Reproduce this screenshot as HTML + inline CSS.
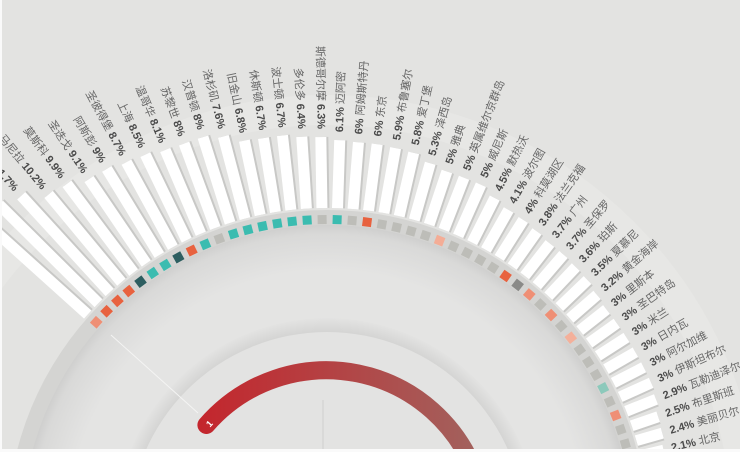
<!DOCTYPE html>
<html><head><meta charset="utf-8"><style>
html,body{margin:0;padding:0;background:#fff;width:740px;height:452px;overflow:hidden}
svg{display:block}
text{font-family:"Liberation Sans","Noto Sans CJK SC",sans-serif;font-size:11px;fill:#666}
.p{font-weight:bold;fill:#4a4a4a}
.bar{fill:#fff}
.sh{fill:#c8c8c6}
</style></head><body>
<svg width="740" height="452" viewBox="0 0 740 452" xmlns="http://www.w3.org/2000/svg" style="overflow:hidden">
<defs>
<radialGradient id="disc" cx="0" cy="0" r="305" gradientUnits="userSpaceOnUse">
<stop offset="0.85" stop-color="#e4e4e3"/><stop offset="0.97" stop-color="#d9d9d8"/><stop offset="1" stop-color="#cfcfce"/></radialGradient>
<radialGradient id="inner" cx="0" cy="0" r="212" gradientUnits="userSpaceOnUse">
<stop offset="0.9" stop-color="#cdcdcc"/><stop offset="1" stop-color="#e3e3e2"/></radialGradient>
<linearGradient id="red" x1="195" y1="0" x2="470" y2="0" gradientUnits="userSpaceOnUse">
<stop offset="0" stop-color="#c4252c"/><stop offset="1" stop-color="#a3605c"/></linearGradient>
<clipPath id="cp"><rect width="740" height="452"/></clipPath>
</defs>
<g clip-path="url(#cp)">
<rect width="740" height="452" fill="#e3e3e1"/>
<g transform="translate(327,530)">
<circle r="420" fill="none" stroke="#e7e7e5" stroke-width="30"/>
<circle r="320" fill="#d4d4d2"/>
<circle r="305" fill="url(#disc)"/>
<circle r="212" fill="url(#inner)"/>
<circle r="198" fill="#e3e3e2"/>
</g>
<line x1="111" y1="335" x2="198" y2="413" stroke="#f4f4f3" stroke-width="1"/>
<line x1="323" y1="400" x2="323" y2="452" stroke="#cfcfcd" stroke-width="1"/>
<path d="M206.4,425.0 A159,159 0 0 1 477.6,480.0" fill="none" stroke="url(#red)" stroke-width="18" stroke-linecap="round"/>
<text x="207" y="429" transform="rotate(-48 207 425)" style="fill:#fff;font-size:9px;font-weight:bold">1</text>

<g transform="translate(327,530)">
<g transform="rotate(-138)"><rect class="sh" x="322" y="-3.5" width="146" height="11"/><rect class="bar" x="322" y="-5.5" width="146" height="11"/><rect x="306" y="-4.5" width="9" height="9" fill="#ef8f75"/><g transform="rotate(180)"><text x="-476" text-anchor="end" dominant-baseline="central">罗马 <tspan class="p">13%</tspan></text></g></g>
<g transform="rotate(-135.22)"><rect class="sh" x="322" y="-3.5" width="140" height="11"/><rect class="bar" x="322" y="-5.5" width="140" height="11"/><rect x="306" y="-4.5" width="9" height="9" fill="#e8623f"/><g transform="rotate(180)"><text x="-470" text-anchor="end" dominant-baseline="central">巴黎 <tspan class="p">12.5%</tspan></text></g></g>
<g transform="rotate(-132.45)"><rect class="sh" x="322" y="-3.5" width="131" height="11"/><rect class="bar" x="322" y="-5.5" width="131" height="11"/><rect x="306" y="-4.5" width="9" height="9" fill="#e8623f"/><g transform="rotate(180)"><text x="-461" text-anchor="end" dominant-baseline="central">伦敦 <tspan class="p">11.7%</tspan></text></g></g>
<g transform="rotate(-129.68)"><rect class="sh" x="322" y="-3.5" width="114" height="11"/><rect class="bar" x="322" y="-5.5" width="114" height="11"/><rect x="306" y="-4.5" width="9" height="9" fill="#e8623f"/><g transform="rotate(180)"><text x="-444" text-anchor="end" dominant-baseline="central">马尼拉 <tspan class="p">10.2%</tspan></text></g></g>
<g transform="rotate(-126.91)"><rect class="sh" x="322" y="-3.5" width="111" height="11"/><rect class="bar" x="322" y="-5.5" width="111" height="11"/><rect x="306" y="-4.5" width="9" height="9" fill="#2d5e60"/><g transform="rotate(180)"><text x="-441" text-anchor="end" dominant-baseline="central">莫斯科 <tspan class="p">9.9%</tspan></text></g></g>
<g transform="rotate(-124.14)"><rect class="sh" x="322" y="-3.5" width="102" height="11"/><rect class="bar" x="322" y="-5.5" width="102" height="11"/><rect x="306" y="-4.5" width="9" height="9" fill="#3bbcb0"/><g transform="rotate(180)"><text x="-432" text-anchor="end" dominant-baseline="central">圣迭戈 <tspan class="p">9.1%</tspan></text></g></g>
<g transform="rotate(-121.37)"><rect class="sh" x="322" y="-3.5" width="101" height="11"/><rect class="bar" x="322" y="-5.5" width="101" height="11"/><rect x="306" y="-4.5" width="9" height="9" fill="#3bbcb0"/><g transform="rotate(180)"><text x="-431" text-anchor="end" dominant-baseline="central">阿斯彭 <tspan class="p">9%</tspan></text></g></g>
<g transform="rotate(-118.6)"><rect class="sh" x="322" y="-3.5" width="97" height="11"/><rect class="bar" x="322" y="-5.5" width="97" height="11"/><rect x="306" y="-4.5" width="9" height="9" fill="#2d5e60"/><g transform="rotate(180)"><text x="-427" text-anchor="end" dominant-baseline="central">圣彼得堡 <tspan class="p">8.7%</tspan></text></g></g>
<g transform="rotate(-115.83)"><rect class="sh" x="322" y="-3.5" width="95" height="11"/><rect class="bar" x="322" y="-5.5" width="95" height="11"/><rect x="306" y="-4.5" width="9" height="9" fill="#e8623f"/><g transform="rotate(180)"><text x="-425" text-anchor="end" dominant-baseline="central">上海 <tspan class="p">8.5%</tspan></text></g></g>
<g transform="rotate(-113.06)"><rect class="sh" x="322" y="-3.5" width="91" height="11"/><rect class="bar" x="322" y="-5.5" width="91" height="11"/><rect x="306" y="-4.5" width="9" height="9" fill="#3bbcb0"/><g transform="rotate(180)"><text x="-421" text-anchor="end" dominant-baseline="central">温哥华 <tspan class="p">8.1%</tspan></text></g></g>
<g transform="rotate(-110.29)"><rect class="sh" x="322" y="-3.5" width="90" height="11"/><rect class="bar" x="322" y="-5.5" width="90" height="11"/><rect x="306" y="-4.5" width="9" height="9" fill="#bdbdb8"/><g transform="rotate(180)"><text x="-420" text-anchor="end" dominant-baseline="central">苏黎世 <tspan class="p">8%</tspan></text></g></g>
<g transform="rotate(-107.52)"><rect class="sh" x="322" y="-3.5" width="90" height="11"/><rect class="bar" x="322" y="-5.5" width="90" height="11"/><rect x="306" y="-4.5" width="9" height="9" fill="#3bbcb0"/><g transform="rotate(180)"><text x="-420" text-anchor="end" dominant-baseline="central">汉普顿 <tspan class="p">8%</tspan></text></g></g>
<g transform="rotate(-104.75)"><rect class="sh" x="322" y="-3.5" width="85" height="11"/><rect class="bar" x="322" y="-5.5" width="85" height="11"/><rect x="306" y="-4.5" width="9" height="9" fill="#3bbcb0"/><g transform="rotate(180)"><text x="-415" text-anchor="end" dominant-baseline="central">洛杉矶 <tspan class="p">7.6%</tspan></text></g></g>
<g transform="rotate(-101.98)"><rect class="sh" x="322" y="-3.5" width="76" height="11"/><rect class="bar" x="322" y="-5.5" width="76" height="11"/><rect x="306" y="-4.5" width="9" height="9" fill="#3bbcb0"/><g transform="rotate(180)"><text x="-406" text-anchor="end" dominant-baseline="central">旧金山 <tspan class="p">6.8%</tspan></text></g></g>
<g transform="rotate(-99.21)"><rect class="sh" x="322" y="-3.5" width="75" height="11"/><rect class="bar" x="322" y="-5.5" width="75" height="11"/><rect x="306" y="-4.5" width="9" height="9" fill="#3bbcb0"/><g transform="rotate(180)"><text x="-405" text-anchor="end" dominant-baseline="central">休斯顿 <tspan class="p">6.7%</tspan></text></g></g>
<g transform="rotate(-96.44)"><rect class="sh" x="322" y="-3.5" width="75" height="11"/><rect class="bar" x="322" y="-5.5" width="75" height="11"/><rect x="306" y="-4.5" width="9" height="9" fill="#3bbcb0"/><g transform="rotate(180)"><text x="-405" text-anchor="end" dominant-baseline="central">波士顿 <tspan class="p">6.7%</tspan></text></g></g>
<g transform="rotate(-93.67)"><rect class="sh" x="322" y="-3.5" width="72" height="11"/><rect class="bar" x="322" y="-5.5" width="72" height="11"/><rect x="306" y="-4.5" width="9" height="9" fill="#3bbcb0"/><g transform="rotate(180)"><text x="-402" text-anchor="end" dominant-baseline="central">多伦多 <tspan class="p">6.4%</tspan></text></g></g>
<g transform="rotate(-90.9)"><rect class="sh" x="322" y="-3.5" width="71" height="11"/><rect class="bar" x="322" y="-5.5" width="71" height="11"/><rect x="306" y="-4.5" width="9" height="9" fill="#bdbdb8"/><g transform="rotate(180)"><text x="-401" text-anchor="end" dominant-baseline="central">斯德哥尔摩 <tspan class="p">6.3%</tspan></text></g></g>
<g transform="rotate(-88.13)"><rect class="sh" x="322" y="-3.5" width="68" height="11"/><rect class="bar" x="322" y="-5.5" width="68" height="11"/><rect x="306" y="-4.5" width="9" height="9" fill="#3bbcb0"/><text x="398" dominant-baseline="central"><tspan class="p">6.1%</tspan> 迈阿密</text></g>
<g transform="rotate(-85.36)"><rect class="sh" x="322" y="-3.5" width="67" height="11"/><rect class="bar" x="322" y="-5.5" width="67" height="11"/><rect x="306" y="-4.5" width="9" height="9" fill="#bdbdb8"/><text x="397" dominant-baseline="central"><tspan class="p">6%</tspan> 阿姆斯特丹</text></g>
<g transform="rotate(-82.59)"><rect class="sh" x="322" y="-3.5" width="67" height="11"/><rect class="bar" x="322" y="-5.5" width="67" height="11"/><rect x="306" y="-4.5" width="9" height="9" fill="#e8623f"/><text x="397" dominant-baseline="central"><tspan class="p">6%</tspan> 东京</text></g>
<g transform="rotate(-79.82)"><rect class="sh" x="322" y="-3.5" width="66" height="11"/><rect class="bar" x="322" y="-5.5" width="66" height="11"/><rect x="306" y="-4.5" width="9" height="9" fill="#bdbdb8"/><text x="396" dominant-baseline="central"><tspan class="p">5.9%</tspan> 布鲁塞尔</text></g>
<g transform="rotate(-77.05)"><rect class="sh" x="322" y="-3.5" width="65" height="11"/><rect class="bar" x="322" y="-5.5" width="65" height="11"/><rect x="306" y="-4.5" width="9" height="9" fill="#bdbdb8"/><text x="395" dominant-baseline="central"><tspan class="p">5.8%</tspan> 爱丁堡</text></g>
<g transform="rotate(-74.28)"><rect class="sh" x="322" y="-3.5" width="59" height="11"/><rect class="bar" x="322" y="-5.5" width="59" height="11"/><rect x="306" y="-4.5" width="9" height="9" fill="#bdbdb8"/><text x="389" dominant-baseline="central"><tspan class="p">5.3%</tspan> 泽西岛</text></g>
<g transform="rotate(-71.51)"><rect class="sh" x="322" y="-3.5" width="56" height="11"/><rect class="bar" x="322" y="-5.5" width="56" height="11"/><rect x="306" y="-4.5" width="9" height="9" fill="#bdbdb8"/><text x="386" dominant-baseline="central"><tspan class="p">5%</tspan> 雅典</text></g>
<g transform="rotate(-68.74)"><rect class="sh" x="322" y="-3.5" width="56" height="11"/><rect class="bar" x="322" y="-5.5" width="56" height="11"/><rect x="306" y="-4.5" width="9" height="9" fill="#f4ad96"/><text x="386" dominant-baseline="central"><tspan class="p">5%</tspan> 英属维尔京群岛</text></g>
<g transform="rotate(-65.97)"><rect class="sh" x="322" y="-3.5" width="56" height="11"/><rect class="bar" x="322" y="-5.5" width="56" height="11"/><rect x="306" y="-4.5" width="9" height="9" fill="#bdbdb8"/><text x="386" dominant-baseline="central"><tspan class="p">5%</tspan> 威尼斯</text></g>
<g transform="rotate(-63.2)"><rect class="sh" x="322" y="-3.5" width="50" height="11"/><rect class="bar" x="322" y="-5.5" width="50" height="11"/><rect x="306" y="-4.5" width="9" height="9" fill="#bdbdb8"/><text x="380" dominant-baseline="central"><tspan class="p">4.5%</tspan> 默热沃</text></g>
<g transform="rotate(-60.43)"><rect class="sh" x="322" y="-3.5" width="46" height="11"/><rect class="bar" x="322" y="-5.5" width="46" height="11"/><rect x="306" y="-4.5" width="9" height="9" fill="#bdbdb8"/><text x="376" dominant-baseline="central"><tspan class="p">4.1%</tspan> 波尔图</text></g>
<g transform="rotate(-57.66)"><rect class="sh" x="322" y="-3.5" width="45" height="11"/><rect class="bar" x="322" y="-5.5" width="45" height="11"/><rect x="306" y="-4.5" width="9" height="9" fill="#bdbdb8"/><text x="375" dominant-baseline="central"><tspan class="p">4%</tspan> 科莫湖区</text></g>
<g transform="rotate(-54.89)"><rect class="sh" x="322" y="-3.5" width="43" height="11"/><rect class="bar" x="322" y="-5.5" width="43" height="11"/><rect x="306" y="-4.5" width="9" height="9" fill="#e8623f"/><text x="373" dominant-baseline="central"><tspan class="p">3.8%</tspan> 法兰克福</text></g>
<g transform="rotate(-52.12)"><rect class="sh" x="322" y="-3.5" width="41" height="11"/><rect class="bar" x="322" y="-5.5" width="41" height="11"/><rect x="306" y="-4.5" width="9" height="9" fill="#8a8a88"/><text x="371" dominant-baseline="central"><tspan class="p">3.7%</tspan> 广州</text></g>
<g transform="rotate(-49.35)"><rect class="sh" x="322" y="-3.5" width="41" height="11"/><rect class="bar" x="322" y="-5.5" width="41" height="11"/><rect x="306" y="-4.5" width="9" height="9" fill="#ef8f75"/><text x="371" dominant-baseline="central"><tspan class="p">3.7%</tspan> 圣保罗</text></g>
<g transform="rotate(-46.58)"><rect class="sh" x="322" y="-3.5" width="40" height="11"/><rect class="bar" x="322" y="-5.5" width="40" height="11"/><rect x="306" y="-4.5" width="9" height="9" fill="#bdbdb8"/><text x="370" dominant-baseline="central"><tspan class="p">3.6%</tspan> 珀斯</text></g>
<g transform="rotate(-43.81)"><rect class="sh" x="322" y="-3.5" width="39" height="11"/><rect class="bar" x="322" y="-5.5" width="39" height="11"/><rect x="306" y="-4.5" width="9" height="9" fill="#ef8f75"/><text x="369" dominant-baseline="central"><tspan class="p">3.5%</tspan> 夏慕尼</text></g>
<g transform="rotate(-41.04)"><rect class="sh" x="322" y="-3.5" width="36" height="11"/><rect class="bar" x="322" y="-5.5" width="36" height="11"/><rect x="306" y="-4.5" width="9" height="9" fill="#bdbdb8"/><text x="366" dominant-baseline="central"><tspan class="p">3.2%</tspan> 黄金海岸</text></g>
<g transform="rotate(-38.27)"><rect class="sh" x="322" y="-3.5" width="34" height="11"/><rect class="bar" x="322" y="-5.5" width="34" height="11"/><rect x="306" y="-4.5" width="9" height="9" fill="#f4b09a"/><text x="364" dominant-baseline="central"><tspan class="p">3%</tspan> 里斯本</text></g>
<g transform="rotate(-35.5)"><rect class="sh" x="322" y="-3.5" width="34" height="11"/><rect class="bar" x="322" y="-5.5" width="34" height="11"/><rect x="306" y="-4.5" width="9" height="9" fill="#bdbdb8"/><text x="364" dominant-baseline="central"><tspan class="p">3%</tspan> 圣巴特岛</text></g>
<g transform="rotate(-32.73)"><rect class="sh" x="322" y="-3.5" width="34" height="11"/><rect class="bar" x="322" y="-5.5" width="34" height="11"/><rect x="306" y="-4.5" width="9" height="9" fill="#bdbdb8"/><text x="364" dominant-baseline="central"><tspan class="p">3%</tspan> 米兰</text></g>
<g transform="rotate(-29.96)"><rect class="sh" x="322" y="-3.5" width="34" height="11"/><rect class="bar" x="322" y="-5.5" width="34" height="11"/><rect x="306" y="-4.5" width="9" height="9" fill="#bdbdb8"/><text x="364" dominant-baseline="central"><tspan class="p">3%</tspan> 日内瓦</text></g>
<g transform="rotate(-27.19)"><rect class="sh" x="322" y="-3.5" width="34" height="11"/><rect class="bar" x="322" y="-5.5" width="34" height="11"/><rect x="306" y="-4.5" width="9" height="9" fill="#8cc9bb"/><text x="364" dominant-baseline="central"><tspan class="p">3%</tspan> 阿尔加维</text></g>
<g transform="rotate(-24.42)"><rect class="sh" x="322" y="-3.5" width="34" height="11"/><rect class="bar" x="322" y="-5.5" width="34" height="11"/><rect x="306" y="-4.5" width="9" height="9" fill="#bdbdb8"/><text x="364" dominant-baseline="central"><tspan class="p">3%</tspan> 伊斯坦布尔</text></g>
<g transform="rotate(-21.65)"><rect class="sh" x="322" y="-3.5" width="32" height="11"/><rect class="bar" x="322" y="-5.5" width="32" height="11"/><rect x="306" y="-4.5" width="9" height="9" fill="#ef8f75"/><text x="362" dominant-baseline="central"><tspan class="p">2.9%</tspan> 瓦勒迪泽尔</text></g>
<g transform="rotate(-18.88)"><rect class="sh" x="322" y="-3.5" width="28" height="11"/><rect class="bar" x="322" y="-5.5" width="28" height="11"/><rect x="306" y="-4.5" width="9" height="9" fill="#bdbdb8"/><text x="358" dominant-baseline="central"><tspan class="p">2.5%</tspan> 布里斯班</text></g>
<g transform="rotate(-16.11)"><rect class="sh" x="322" y="-3.5" width="27" height="11"/><rect class="bar" x="322" y="-5.5" width="27" height="11"/><rect x="306" y="-4.5" width="9" height="9" fill="#bdbdb8"/><text x="357" dominant-baseline="central"><tspan class="p">2.4%</tspan> 美丽贝尔</text></g>
<g transform="rotate(-13.34)"><rect class="sh" x="322" y="-3.5" width="24" height="11"/><rect class="bar" x="322" y="-5.5" width="24" height="11"/><rect x="306" y="-4.5" width="9" height="9" fill="#bdbdb8"/><text x="354" dominant-baseline="central"><tspan class="p">2.1%</tspan> 北京</text></g>
</g>
<rect x="0" y="449" width="740" height="3" fill="#fafafa"/>
<rect x="0" y="0" width="2" height="452" fill="#fafafa"/>
</g>
</svg>
</body></html>
